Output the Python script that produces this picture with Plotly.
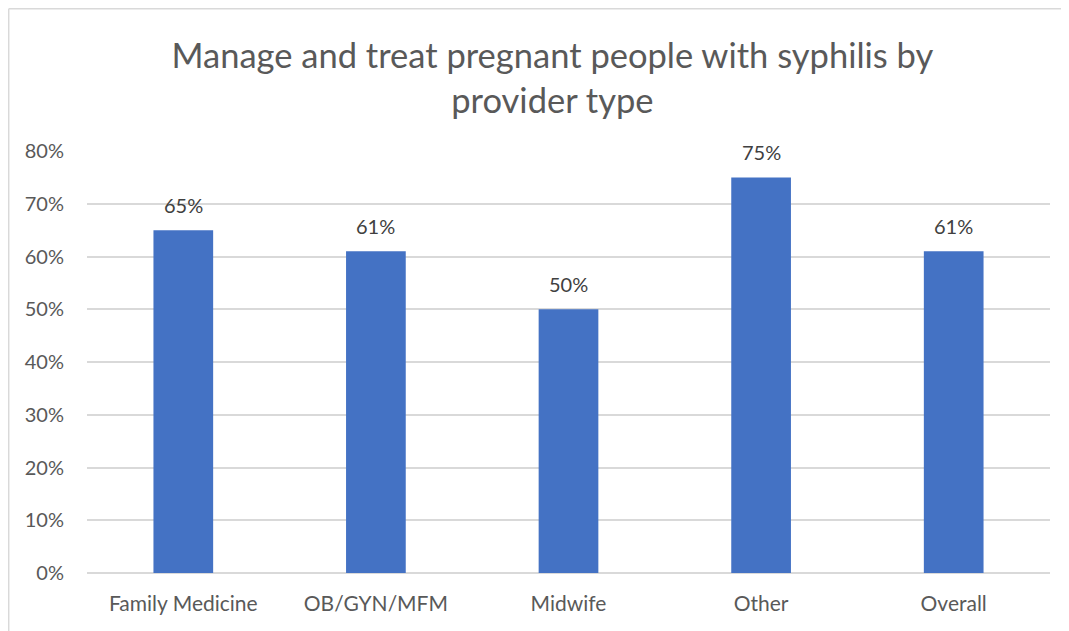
import plotly.graph_objects as go

categories = ["Family Medicine", "OB/GYN/MFM", "Midwife", "Other", "Overall"]
values = [0.65, 0.61, 0.50, 0.75, 0.61]
tick_vals = [0, 0.1, 0.2, 0.3, 0.4, 0.5, 0.6, 0.7, 0.8]
tick_text = ["0%", "10%", "20%", "30%", "40%", "50%", "60%", "70%", "80%"]
title = "Manage and treat pregnant people with syphilis by<br>provider type"

FONT = "Lato, Open Sans, sans-serif"
GRAY = "#595959"

fig = go.Figure()
fig.add_trace(go.Bar(x=categories, y=values, marker=dict(color="#4472C4", line=dict(width=0))))

for c, v in zip(categories, values):
    fig.add_annotation(x=c, y=v, text=f"{round(v*100)}%", showarrow=False,
                       yanchor="bottom", yshift=11,
                       font=dict(family=FONT, size=20, color="#404040"))

fig.update_layout(
    width=1077, height=631,
    margin=dict(l=79, r=35, t=143, b=66),
    paper_bgcolor="white", plot_bgcolor="white",
    bargap=0.69,
    showlegend=False,
    title=dict(text=title, x=0.5055, xanchor="center", y=0.905, yanchor="middle",
               font=dict(family=FONT, size=34.5, color=GRAY)),
    xaxis=dict(showgrid=False, tickfont=dict(family=FONT, size=21, color=GRAY),
               ticks="", showline=False, ticklabelstandoff=16),
    yaxis=dict(range=[0, 0.8], tickvals=tick_vals, ticktext=tick_text,
               showgrid=True, gridcolor="#D9D9D9", gridwidth=1.5,
               zeroline=True, zerolinecolor="#D9D9D9", zerolinewidth=1.5,
               tickfont=dict(family=FONT, size=20, color=GRAY),
               ticks="", ticklabelstandoff=22, showline=False),
    shapes=[
        dict(type="line", xref="paper", yref="paper", x0=-0.0813, x1=-0.0813, y0=-0.2, y1=1.337,
             line=dict(color="#D9D9D9", width=1.5)),
        dict(type="line", xref="paper", yref="paper", x0=-0.0813, x1=1.04, y0=1.337, y1=1.337,
             line=dict(color="#D9D9D9", width=1.5)),
    ],
)

fig.write_html("out.html")
